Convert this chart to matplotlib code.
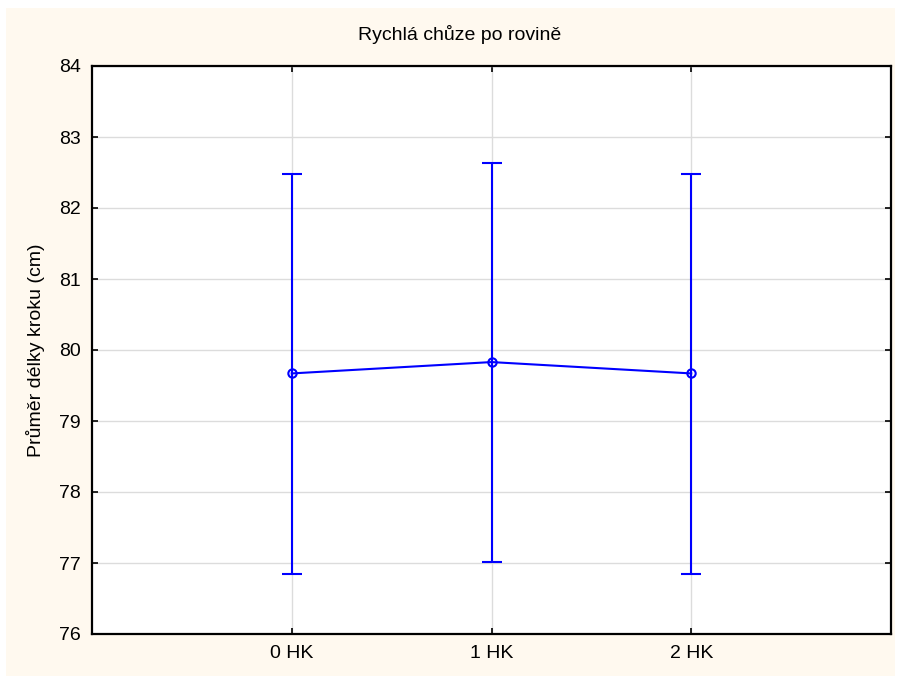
import matplotlib
matplotlib.use("Agg")
import matplotlib.pyplot as plt
from matplotlib.patches import Rectangle

plt.rcParams['font.family'] = ['Liberation Sans', 'DejaVu Sans']

categories = ["0 HK", "1 HK", "2 HK"]
means = [79.67, 79.83, 79.67]
lower = [76.85, 77.02, 76.85]
upper = [82.48, 82.64, 82.48]

W, H = 897, 676
fig = plt.figure(figsize=(W / 100, H / 100), dpi=100)
fig.patch.set_facecolor("white")

# cream panel behind the plot
fig.add_artist(Rectangle((6 / W, 0), (895 - 6) / W, 1 - 8 / H,
                         transform=fig.transFigure, facecolor="#fff9ef",
                         edgecolor="none", zorder=-5))

ax = fig.add_axes([92 / W, 1 - 634 / H, (891 - 92) / W, (634 - 66) / H])
ax.set_facecolor("white")

x = list(range(len(categories)))
yerr = [[m - lo for m, lo in zip(means, lower)],
        [hi - m for m, hi in zip(means, upper)]]
ax.errorbar(x, means, yerr=yerr, color="#0000ff", lw=1.5, elinewidth=1.5,
            capsize=7.2, capthick=1.5, marker="o", markersize=6,
            markerfacecolor="none", markeredgecolor="#0000ff",
            markeredgewidth=1.5, zorder=3)

ax.set_xlim(-1, 3)
ax.set_ylim(76, 84)
ax.set_xticks(x)
ax.set_xticklabels(categories)
ax.set_yticks(range(76, 85))
ax.grid(True, color="#dcdcdc", lw=1)
ax.set_axisbelow(True)
for s in ax.spines.values():
    s.set_linewidth(1.6)
    s.set_color("black")
ax.tick_params(direction="in", length=4, width=1.2, labelsize=14,
               top=True, right=True, pad=8)

ax.set_ylabel("Průměr délky kroku (cm)", fontsize=14, labelpad=10)
fig.text(460 / W, 1 - 35 / H, "Rychlá chůze po rovině", ha="center",
         va="center", fontsize=14)

fig.savefig("out.png", dpi=100)
